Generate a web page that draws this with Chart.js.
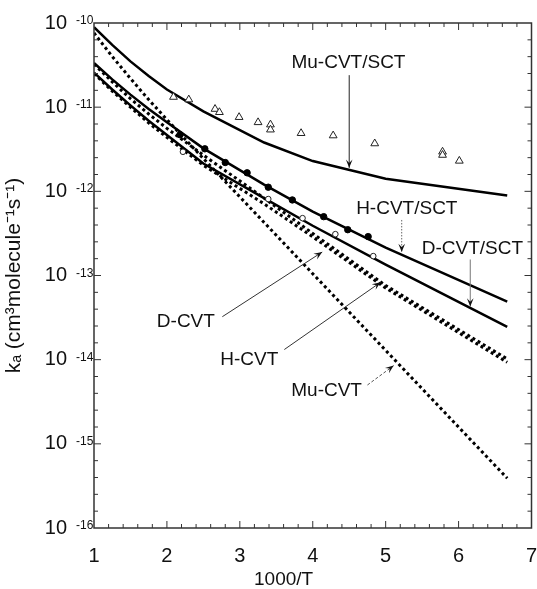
<!DOCTYPE html>
<html>
<head>
<meta charset="utf-8">
<script src="https://cdn.jsdelivr.net/npm/chart.js@4.4.1/dist/chart.umd.min.js"></script>
<style>
  html, body { margin: 0; padding: 0; background: #fff; }
  #wrap { width: 537px; height: 589px; }
</style>
</head>
<body>
<div id="wrap"><canvas id="rateChart"></canvas></div>
<script>
// 1000/T nodes of the computed curves
const invT = [1, 1.25, 1.5, 1.75, 2, 2.5, 3.333, 4, 5, 6.667];

// computed rate constants, cm3 molecule-1 s-1
const muCvtSct = [8.9e-11, 5.5e-11, 3.5e-11, 2.34e-11, 1.62e-11, 8.9e-12, 3.8e-12, 2.29e-12, 1.41e-12, 8.9e-13];
const hCvtSct  = [3.35e-11, 2.14e-11, 1.41e-11, 9.5e-12, 6.6e-12, 3.24e-12, 1.2e-12, 5.75e-13, 2.14e-13, 4.9e-14];
const dCvtSct  = [2.57e-11, 1.62e-11, 1.05e-11, 6.9e-12, 4.68e-12, 2.14e-12, 8.3e-13, 3.9e-13, 1.35e-13, 2.45e-14];
const muCvt    = [7.6e-11, 4.0e-11, 2.19e-11, 1.23e-11, 7.1e-12, 2.45e-12, 4.27e-13, 1.05e-13, 1.29e-14, 3.9e-16];
const hCvt     = [3.24e-11, 2.0e-11, 1.26e-11, 8.3e-12, 5.6e-12, 2.69e-12, 8.3e-13, 3.16e-13, 7.6e-14, 1.02e-14];
const dCvt     = [2.51e-11, 1.55e-11, 1.0e-11, 6.5e-12, 4.37e-12, 2.04e-12, 7.1e-13, 2.88e-13, 7.1e-14, 9.3e-15];

// experiment: Mu (triangles)
const muExpX = [2.09, 2.30, 2.66, 2.72, 2.99, 3.25, 3.42, 3.42, 3.84, 4.28, 4.85, 5.78, 5.78, 6.01];
const muExpK = [1.32e-11, 1.23e-11, 9.5e-12, 8.7e-12, 7.6e-12, 6.6e-12, 6.2e-12, 5.4e-12, 4.9e-12, 4.6e-12, 3.7e-12, 2.95e-12, 2.7e-12, 2.3e-12];
// experiment: H (filled circles)
const hExpX = [2.18, 2.52, 2.80, 3.10, 3.39, 3.72, 4.15, 4.48, 4.76];
const hExpK = [4.7e-12, 3.2e-12, 2.2e-12, 1.66e-12, 1.12e-12, 7.9e-13, 5.0e-13, 3.5e-13, 2.9e-13];
// experiment: D (open circles)
const dExpX = [2.22, 3.39, 3.86, 4.31, 4.83];
const dExpK = [2.95e-12, 8.1e-13, 4.8e-13, 3.1e-13, 1.7e-13];

// axis ticks
const xTicks = [1, 2, 3, 4, 5, 6, 7];
const yExps = [-16, -15, -14, -13, -12, -11, -10];

// curve labels with their arrows (data units)
const noteText = ['Mu-CVT/SCT', 'H-CVT/SCT', 'D-CVT/SCT', 'D-CVT', 'H-CVT', 'Mu-CVT'];
const noteX = [4.49, 5.29, 6.19, 2.26, 3.13, 4.19];
const noteY = [3.35e-11, 6.2e-13, 2.1e-13, 2.8e-14, 1.0e-14, 4.3e-15];
const arrowX0 = [4.50, 5.22, 6.16, 2.76, 3.61, 4.75];
const arrowY0 = [2.4e-11, 4.57e-13, 1.55e-13, 3.24e-14, 1.32e-14, 5.0e-15];
const arrowX1 = [4.50, 5.22, 6.16, 4.13, 4.93, 5.11];
const arrowY1 = [1.9e-12, 1.9e-13, 4.27e-14, 1.9e-13, 8.3e-14, 8.5e-15];

const FONT = "'Liberation Sans', Arial, sans-serif";
const EXP_PAD = 19; // room for the exponent after "10"

const pts = (xs, ys) => xs.map((x, i) => ({ x: x, y: ys[i] }));

function curve(label, ys, dotted) {
    return {
        label: label,
        data: pts(invT, ys),
        showLine: true,
        borderColor: '#000',
        borderWidth: dotted ? 3 : 2.5,
        borderDash: dotted ? [3, 3] : [],
        borderCapStyle: 'butt',
        pointRadius: 0,
        tension: 0
    };
}

const frameAndNotes = {
    id: 'frameAndNotes',
    afterDatasetsDraw(chart) {
        const { ctx, chartArea: a, scales: { x, y } } = chart;
        ctx.save();
        // box
        ctx.strokeStyle = '#333';
        ctx.lineWidth = 1.5;
        ctx.strokeRect(a.left, a.top, a.right - a.left, a.bottom - a.top);
        // inward ticks, 5 per unit / decade
        ctx.lineWidth = 1;
        ctx.beginPath();
        for (let k = 1; k < 30; k++) {
            const len = k % 5 === 0 ? 7 : 4;
            const px = x.getPixelForValue(1 + k * 0.2);
            ctx.moveTo(px, a.bottom); ctx.lineTo(px, a.bottom - len);
            ctx.moveTo(px, a.top); ctx.lineTo(px, a.top + len);
            const py = y.getPixelForValue(Math.pow(10, -16 + k * 0.2));
            ctx.moveTo(a.left, py); ctx.lineTo(a.left + len, py);
            ctx.moveTo(a.right, py); ctx.lineTo(a.right - len, py);
        }
        ctx.stroke();

        // exponents of the y tick labels
        ctx.fillStyle = '#111';
        ctx.font = '12px ' + FONT;
        ctx.textAlign = 'left';
        ctx.textBaseline = 'alphabetic';
        yExps.forEach(e => {
            const py = y.getPixelForValue(Math.pow(10, e));
            ctx.fillText(String(e), y.right - EXP_PAD + 1, py + 1);
        });

        // x axis title, set left of centre as in the figure
        ctx.font = '19px ' + FONT;
        ctx.textAlign = 'center';
        ctx.textBaseline = 'middle';
        ctx.fillText('1000/T', x.getPixelForValue(3.6), x.bottom - 9);

        // curve labels
        const styles = [
            ['#222', []], ['#666', [1.5, 1.5]], ['#777', []],
            ['#333', []], ['#333', []], ['#555', [3, 2]]
        ];
        noteText.forEach((t, i) => {
            ctx.fillStyle = '#111';
            ctx.fillText(t, x.getPixelForValue(noteX[i]), y.getPixelForValue(noteY[i]));
            const x0 = x.getPixelForValue(arrowX0[i]), y0 = y.getPixelForValue(arrowY0[i]);
            const x1 = x.getPixelForValue(arrowX1[i]), y1 = y.getPixelForValue(arrowY1[i]);
            ctx.strokeStyle = styles[i][0];
            ctx.setLineDash(styles[i][1]);
            ctx.lineWidth = 1;
            ctx.beginPath();
            ctx.moveTo(x0, y0); ctx.lineTo(x1, y1);
            ctx.stroke();
            ctx.setLineDash([]);
            // arrow head
            const ang = Math.atan2(y1 - y0, x1 - x0);
            const L = 9, w = 0.38;
            ctx.beginPath();
            ctx.moveTo(x1, y1);
            ctx.lineTo(x1 - L * Math.cos(ang - w), y1 - L * Math.sin(ang - w));
            ctx.lineTo(x1 - 0.55 * L * Math.cos(ang), y1 - 0.55 * L * Math.sin(ang));
            ctx.lineTo(x1 - L * Math.cos(ang + w), y1 - L * Math.sin(ang + w));
            ctx.closePath();
            ctx.fill();
        });
        ctx.restore();
    }
};

Chart.defaults.font.family = FONT;
Chart.defaults.color = '#111';

const ctx = document.getElementById('rateChart').getContext('2d');
const rateChart = new Chart(ctx, {
    type: 'scatter',
    data: {
        datasets: [
            {
                label: 'Mu exp',
                data: pts(muExpX, muExpK),
                pointStyle: 'triangle',
                pointRadius: 4.5,
                borderWidth: 1,
                borderColor: '#222',
                backgroundColor: '#fff'
            },
            {
                label: 'H exp',
                data: pts(hExpX, hExpK),
                pointRadius: 3.2,
                borderWidth: 1,
                borderColor: '#000',
                backgroundColor: '#000'
            },
            {
                label: 'D exp',
                data: pts(dExpX, dExpK),
                pointRadius: 2.8,
                borderWidth: 1,
                borderColor: '#222',
                backgroundColor: '#fff'
            },
            curve('Mu-CVT/SCT', muCvtSct, false),
            curve('H-CVT/SCT', hCvtSct, false),
            curve('D-CVT/SCT', dCvtSct, false),
            curve('Mu-CVT', muCvt, true),
            curve('H-CVT', hCvt, true),
            curve('D-CVT', dCvt, true)
        ]
    },
    options: {
        responsive: true,
        maintainAspectRatio: false,
        animation: false,
        devicePixelRatio: 1,
        layout: { padding: { top: 23, right: 5, left: 0, bottom: 0 } },
        plugins: {
            legend: { display: false },
            tooltip: { enabled: false }
        },
        scales: {
            x: {
                type: 'linear',
                min: 1,
                max: 7,
                afterBuildTicks: s => { s.ticks = xTicks.map(v => ({ value: v })); },
                afterFit: s => { s.height = 61; s.paddingLeft = 0; s.paddingRight = 0; },
                grid: { display: false },
                border: { display: false },
                ticks: { padding: 8, font: { size: 20 }, color: '#111', maxRotation: 0 },
                title: { display: false, text: '1000/T' }
            },
            y: {
                type: 'logarithmic',
                min: 1e-16,
                max: 1e-10,
                afterBuildTicks: s => { s.ticks = yExps.map(e => ({ value: Math.pow(10, e) })); },
                afterFit: s => { s.width = 94; s.paddingTop = 0; s.paddingBottom = 0; },
                grid: { display: false },
                border: { display: false },
                ticks: {
                    padding: EXP_PAD,
                    font: { size: 20 },
                    color: '#111',
                    callback: () => '10'
                },
                title: {
                    display: true,
                    text: 'k\u2090 (cm\u00B3molecule\u207B\u00B9s\u207B\u00B9)',
                    font: { size: 21, lineHeight: 1 },
                    padding: { top: 4, bottom: 0 },
                    color: '#111'
                }
            }
        }
    },
    plugins: [frameAndNotes]
});
</script>
</body>
</html>
